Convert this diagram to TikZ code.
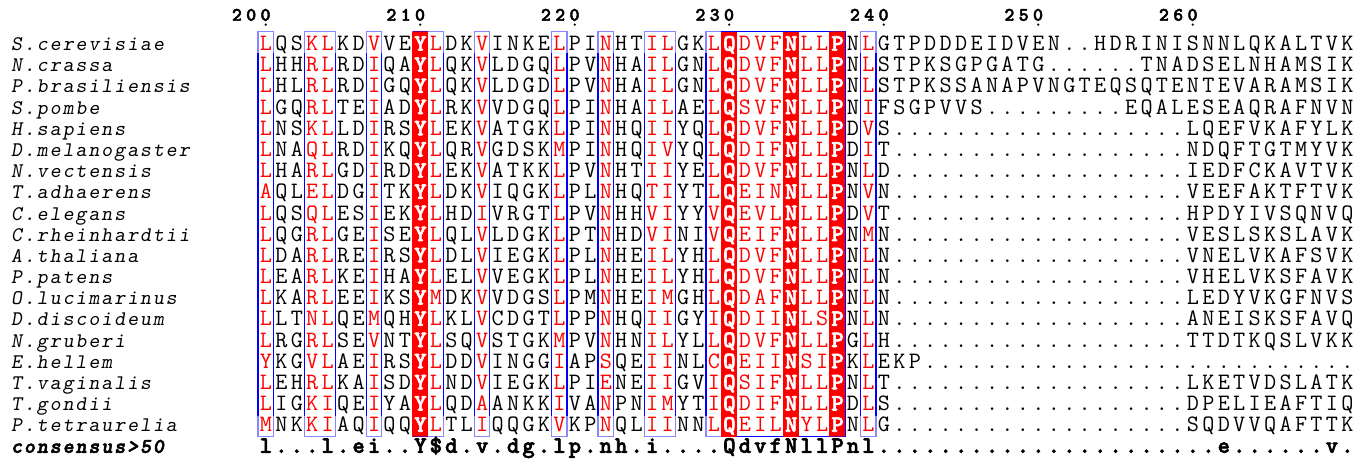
\documentclass[tikz,border=0pt]{standalone}
\usepackage{fontspec}
\usepackage{xcolor}
\newfontfamily\monob{lmmonolt10-bold.otf}[FakeBold=2.5]
\newfontfamily\monobsl{lmmonolt10-boldoblique.otf}[FakeBold=2.5]
\definecolor{seqred}{RGB}{255,0,0}
\definecolor{fblue}{RGB}{0,0,255}
\definecolor{fbluelt}{RGB}{135,135,255}
\definecolor{fpurple}{RGB}{128,0,128}
\newlength\seqcolw
\setlength\seqcolw{15.45pt}
\ExplSyntaxOn
\tl_const:Nn \c__rs_cls_tl {rnnrrnnrnnwrnnrnnnnrnnrnnrrnnrwrrrwrrwnrnnnnnnnnnnnnnnnnnnnnnnnnnnnnnnn}
\tl_const:Nn \c__rs_r_tl {r}
\tl_const:Nn \c__rs_w_tl {w}
\int_new:N \l__rs_col_int
\tl_new:N \l__rs_cls_tl
\tl_new:N \l__rs_arg_tl
\NewDocumentCommand \seqrow { m }
 {
  \int_zero:N \l__rs_col_int
  \tl_map_inline:nn {#1}
   {
    \int_incr:N \l__rs_col_int
    \tl_set:Nx \l__rs_cls_tl { \tl_item:Nn \c__rs_cls_tl { \l__rs_col_int } }
    \tl_if_eq:NNTF \l__rs_cls_tl \c__rs_r_tl
     { \makebox[\seqcolw][c]{\color{seqred}##1} }
     {
      \tl_if_eq:NNTF \l__rs_cls_tl \c__rs_w_tl
       { \makebox[\seqcolw][c]{\color{white}\monob ##1} }
       { \makebox[\seqcolw][c]{##1} }
     }
   }
 }
\NewDocumentCommand \spaced { m m }
 { \tl_map_inline:nn {#2} { \makebox[#1][c]{##1} } }
\NewDocumentCommand \spacedx { m m }
 {
  \tl_set:Nx \l__rs_arg_tl {#2}
  \tl_map_inline:Nn \l__rs_arg_tl { \makebox[#1][c]{##1} }
 }
\ExplSyntaxOff
\tikzset{
  simframe/.style={draw=fblue, line width=1.3pt},
  simframelt/.style={draw=fbluelt, line width=1.3pt},
  simframepu/.style={draw=fpurple, line width=1.3pt},
  redcol/.style={fill=seqred},
  seqtxt/.style={anchor=base west, inner sep=0pt, font=\fontsize{23.5}{24}\selectfont\ttfamily},
  constxt/.style={anchor=base west, inner sep=0pt, font=\fontsize{23.5}{24}\selectfont\monob},
  nametxt/.style={anchor=base west, inner sep=0pt, font=\fontsize{20.8}{22}\selectfont\ttfamily\slshape},
  consname/.style={anchor=base west, inner sep=0pt, font=\fontsize{20.8}{22}\selectfont\monobsl},
  rulertxt/.style={anchor=base east, inner sep=0pt, font=\fontsize{19}{19}\selectfont\monob},
}
\begin{document}
\begin{tikzpicture}[x=1pt,y=-1pt]
\useasboundingbox (0,0) rectangle (1367,463);
\fill[white] (0,0) rectangle (1367,463);
% frames
\foreach \a/\b in {200/200,203/204,207/207,210/211,214/214,219/219,222/222,225/226,229/229,239/239} {
  \pgfmathsetmacro\xl{258+(\a-200)*15.45}
  \pgfmathsetmacro\xr{258+(\b-199)*15.45}
  \draw[simframe] (\xl,31.7) rectangle (\xr,436.7);
  \draw[simframelt] (\xl,52.9) -- (\xl,31.7) -- (\xr,31.7) -- (\xr,52.9);
  \draw[simframelt] (\xl,415.5) -- (\xl,436.7) -- (\xr,436.7) -- (\xr,415.5);
}
\draw[simframe] ({258+30*15.45},31.7) rectangle ({258+38*15.45},436.7);
% red columns
\foreach \c in {210,230,234,237} {
  \fill[redcol] ({258+(\c-200)*15.45-0.7},31.7) rectangle ({258+(\c-199)*15.45},436.7);
}
\foreach \c in {210,237} {
  \draw[simframepu] ({258+(\c-200)*15.45},31.7) -- ({258+(\c-199)*15.45},31.7);
  \draw[simframepu] ({258+(\c-200)*15.45},436.7) -- ({258+(\c-199)*15.45},436.7);
}
% ruler
\foreach \n in {200,210,220,230,240,250,260} {
  \pgfmathsetmacro\xc{258+(\n-199.5)*15.45}
  \node[rulertxt] (num\n) at (\xc+7.15,20.7) {\spacedx{14.3pt}{\n}};
  \fill (\xc,24.6) circle (1.2pt);
}
% names
\node[nametxt] (n1) at (10,50.6) {\spaced{12.9pt}{S.cerevisiae}};
\node[nametxt] (n2) at (10,71.8) {\spaced{12.9pt}{N.crassa}};
\node[nametxt] (n3) at (10,92.9) {\spaced{12.9pt}{P.brasiliensis}};
\node[nametxt] (n4) at (10,114.1) {\spaced{12.9pt}{S.pombe}};
\node[nametxt] (n5) at (10,135.3) {\spaced{12.9pt}{H.sapiens}};
\node[nametxt] (n6) at (10,156.5) {\spaced{12.9pt}{D.melanogaster}};
\node[nametxt] (n7) at (10,177.6) {\spaced{12.9pt}{N.vectensis}};
\node[nametxt] (n8) at (10,198.8) {\spaced{12.9pt}{T.adhaerens}};
\node[nametxt] (n9) at (10,220.0) {\spaced{12.9pt}{C.elegans}};
\node[nametxt] (n10) at (10,241.1) {\spaced{12.9pt}{C.rheinhardtii}};
\node[nametxt] (n11) at (10,262.3) {\spaced{12.9pt}{A.thaliana}};
\node[nametxt] (n12) at (10,283.5) {\spaced{12.9pt}{P.patens}};
\node[nametxt] (n13) at (10,304.6) {\spaced{12.9pt}{O.lucimarinus}};
\node[nametxt] (n14) at (10,325.8) {\spaced{12.9pt}{D.discoideum}};
\node[nametxt] (n15) at (10,347.0) {\spaced{12.9pt}{N.gruberi}};
\node[nametxt] (n16) at (10,368.2) {\spaced{12.9pt}{E.hellem}};
\node[nametxt] (n17) at (10,389.3) {\spaced{12.9pt}{T.vaginalis}};
\node[nametxt] (n18) at (10,410.5) {\spaced{12.9pt}{T.gondii}};
\node[nametxt] (n19) at (10,431.7) {\spaced{12.9pt}{P.tetraurelia}};
\node[consname] (n20) at (10,452.8) {\spaced{12.9pt}{consensus>50}};
% sequences
\node[seqtxt] (s1) at (258,50.6) {\seqrow{LQSKLKDVVEYLDKVINKELPINHTILGKLQDVFNLLPNLGTPDDDEIDVEN..HDRINISNNLQKALTVK}};
\node[seqtxt] (s2) at (258,71.8) {\seqrow{LHHRLRDIQAYLQKVLDGQLPVNHAILGNLQDVFNLLPNLSTPKSGPGATG......TNADSELNHAMSIK}};
\node[seqtxt] (s3) at (258,92.9) {\seqrow{LHLRLRDIGQYLQKVLDGDLPVNHAILGNLQDVFNLLPNLSTPKSSANAPVNGTEQSQTENTEVARAMSIK}};
\node[seqtxt] (s4) at (258,114.1) {\seqrow{LGQRLTEIADYLRKVVDGQLPINHAILAELQSVFNLLPNIFSGPVVS.........EQALESEAQRAFNVN}};
\node[seqtxt] (s5) at (258,135.3) {\seqrow{LNSKLLDIRSYLEKVATGKLPINHQIIYQLQDVFNLLPDVS...................LQEFVKAFYLK}};
\node[seqtxt] (s6) at (258,156.5) {\seqrow{LNAQLRDIKQYLQRVGDSKMPINHQIVYQLQDIFNLLPDIT...................NDQFTGTMYVK}};
\node[seqtxt] (s7) at (258,177.6) {\seqrow{LHARLGDIRDYLEKVATKKLPVNHTIIYELQDVFNLLPNLD...................IEDFCKAVTVK}};
\node[seqtxt] (s8) at (258,198.8) {\seqrow{AQLELDGITKYLDKVIQGKLPLNHQTIYTLQEINNLLPNVN...................VEEFAKTFTVK}};
\node[seqtxt] (s9) at (258,220.0) {\seqrow{LQSQLESIEKYLHDIVRGTLPVNHHVIYYVQEVLNLLPDVT...................HPDYIVSQNVQ}};
\node[seqtxt] (s10) at (258,241.1) {\seqrow{LQGRLGEISEYLQLVLDGKLPTNHDVINIVQEIFNLLPNMN...................VESLSKSLAVK}};
\node[seqtxt] (s11) at (258,262.3) {\seqrow{LDARLREIRSYLDLVIEGKLPLNHEILYHLQDVFNLLPNLN...................VNELVKAFSVK}};
\node[seqtxt] (s12) at (258,283.5) {\seqrow{LEARLKEIHAYLELVVEGKLPLNHEILYHLQDVFNLLPNLN...................VHELVKSFAVK}};
\node[seqtxt] (s13) at (258,304.6) {\seqrow{LKARLEEIKSYMDKVVDGSLPMNHEIMGHLQDAFNLLPNLN...................LEDYVKGFNVS}};
\node[seqtxt] (s14) at (258,325.8) {\seqrow{LLTNLQEMQHYLKLVCDGTLPPNHQIIGYIQDIINLSPNLN...................ANEISKSFAVQ}};
\node[seqtxt] (s15) at (258,347.0) {\seqrow{LRGRLSEVNTYLSQVSTGKMPVNHNILYLLQDVFNLLPGLH...................TTDTKQSLVKK}};
\node[seqtxt] (s16) at (258,368.2) {\seqrow{YKGVLAEIRSYLDDVINGGIAPSQEIINLCQEIINSIPKLEKP............................}};
\node[seqtxt] (s17) at (258,389.3) {\seqrow{LEHRLKAISDYLNDVIEGKLPIENEIIGVIQSIFNLLPNLT...................LKETVDSLATK}};
\node[seqtxt] (s18) at (258,410.5) {\seqrow{LIGKIQEIYAYLQDAANKKIVANPNIMYTIQDIFNLLPDLS...................DPELIEAFTIQ}};
\node[seqtxt] (s19) at (258,431.7) {\seqrow{MNKKIAQIQQYLTLIQQGKVKPNQLIINNLQEILNYLPNLG...................SQDVVQAFTTK}};
\node[constxt] (s20) at (258,452.8) {\spaced{\seqcolw}{l...l.ei..Y{\$}d.v.dg.lp.nh.i....QdvfNllPnl......................e......v.}};
\end{tikzpicture}
\end{document}
